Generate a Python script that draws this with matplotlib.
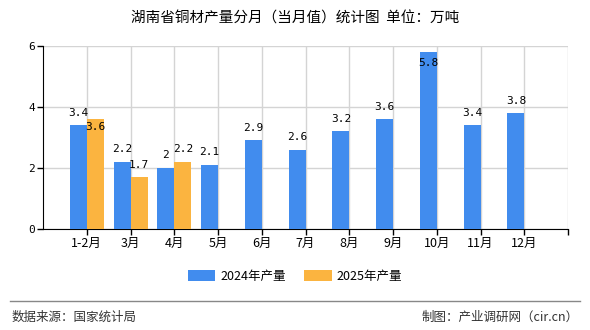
import numpy as np
import matplotlib.pyplot as plt

plt.rcParams['font.family'] = ['Noto Sans CJK SC', 'DejaVu Sans']

months = ["1-2月", "3月", "4月", "5月", "6月", "7月", "8月", "9月", "10月", "11月", "12月"]
prod_2024 = [3.4, 2.2, 2, 2.1, 2.9, 2.6, 3.2, 3.6, 5.8, 3.4, 3.8]
prod_2025 = [3.6, 1.7, 2.2]
labels_2024 = ["3.4", "2.2", "2", "2.1", "2.9", "2.6", "3.2", "3.6", "5.8", "3.4", "3.8"]
labels_2025 = ["3.6", "1.7", "2.2"]

blue = "#418CEE"
orange = "#FBB440"

fig = plt.figure(figsize=(5.9, 3.3), dpi=100)
ax = fig.add_axes([0.073, 0.306, 0.890, 0.555])

x = np.arange(1, len(months) + 1)
w = 0.39
ax.bar(x - w / 2, prod_2024, width=w, color=blue, label="2024年产量", zorder=3)
x25 = x[:len(prod_2025)]
ax.bar(x25 + w / 2, prod_2025, width=w, color=orange, label="2025年产量", zorder=3)

mono = ["DejaVu Sans Mono"]
for xi, v, s in zip(x, prod_2024, labels_2024):
    if v > 5.5:
        ax.annotate(s, (xi - w / 2, v), xytext=(0, -8), textcoords="offset points",
                    ha="center", va="center", fontsize=8, family=mono, zorder=4)
    else:
        ax.annotate(s, (xi - w / 2, v), xytext=(0, 9), textcoords="offset points",
                    ha="center", va="center", fontsize=8, family=mono, zorder=4)
for i, (xi, v, s) in enumerate(zip(x25, prod_2025, labels_2025)):
    dy = -6 if i == 0 else 9
    ax.annotate(s, (xi + w / 2, v), xytext=(0, dy), textcoords="offset points",
                ha="center", va="center", fontsize=8, family=mono, zorder=4)

ax.set_xlim(0, 12)
ax.set_ylim(0, 6)
ax.set_yticks([0, 2, 4, 6])
ax.set_yticklabels(["0", "2", "4", "6"], fontsize=8, family=mono)
ax.set_xticks(list(x) + [12])
ax.set_xticklabels(months + [""], fontsize=9)
ax.tick_params(axis="both", length=4, width=1, color="black", pad=2)
ax.grid(True, color="#d4d4d4", linewidth=1, zorder=0)
ax.set_axisbelow(True)
for s in ["top", "right"]:
    ax.spines[s].set_visible(False)
ax.spines["left"].set_color("black")
ax.spines["bottom"].set_color("black")

fig.text(0.5, 0.945, "湖南省铜材产量分月（当月值）统计图  单位：万吨", ha="center", va="center",
         fontsize=10.5)

fig.legend(loc="center", bbox_to_anchor=(0.5, 0.163), ncol=2, frameon=False, fontsize=9,
           handlelength=2.2, handleheight=0.9, columnspacing=1.5, handletextpad=0.4)

fig.add_artist(plt.Line2D([0.017, 0.983], [0.087, 0.087], color="#888888", linewidth=1))
fig.text(0.02, 0.04, "数据来源：国家统计局", ha="left", va="center", fontsize=9, color="#333333")
fig.text(0.98, 0.04, "制图：产业调研网（cir.cn）", ha="right", va="center", fontsize=9, color="#333333")

fig.savefig("out.png", dpi=100)
